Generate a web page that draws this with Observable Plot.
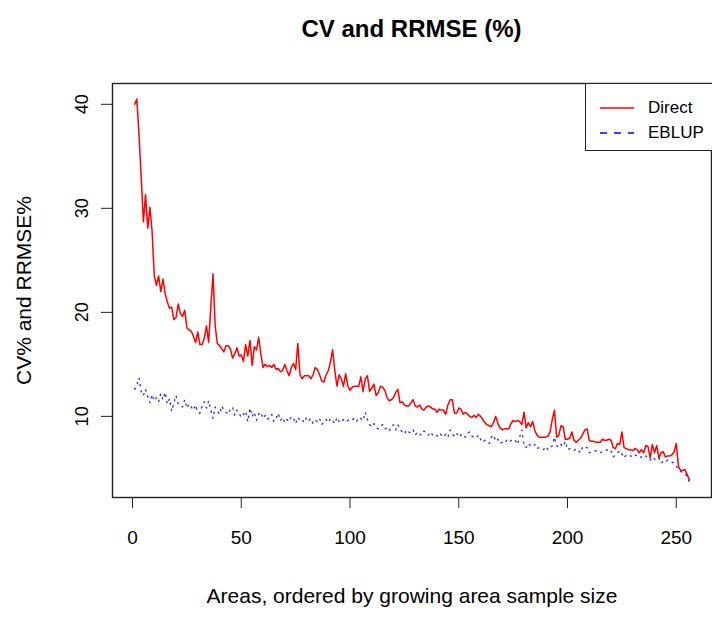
<!DOCTYPE html>
<html><head><meta charset="utf-8">
<script src="https://cdn.jsdelivr.net/npm/d3@7"></script>
<script src="https://cdn.jsdelivr.net/npm/@observablehq/plot@0.6"></script>
<style>
body{margin:0;background:#fff;font-family:"Liberation Sans",Arial,sans-serif;}
#wrap{position:relative;width:712px;height:617px;overflow:hidden;}
#title{position:absolute;left:112px;width:599px;top:15px;text-align:center;font-weight:bold;font-size:24px;line-height:28px;color:#000;}
#legend{position:absolute;left:585px;top:83px;width:140px;height:68px;border:1.3px solid #222;background:#fff;box-sizing:border-box;}
.lrow{position:absolute;left:0;height:24px;display:flex;align-items:center;font-size:17px;color:#000;}
.lrow svg{margin-left:14px;margin-right:14px;}
</style></head><body>
<div id="wrap"><div id="title">CV and RRMSE (%)</div></div>
<script>
const direct = [
40.0,40.5,37.0,33.0,28.7,31.3,28.1,30.1,27.8,23.5,
22.6,23.5,22.0,23.2,21.8,21.0,20.4,20.5,19.3,19.5,
20.8,19.9,19.6,20.2,18.5,18.3,18.2,17.7,17.1,18.1,
16.9,16.9,17.5,18.7,17.1,20.5,23.7,18.7,17.0,16.8,
16.5,16.2,16.8,16.8,16.5,15.6,16.0,16.6,15.8,15.9,
15.3,16.9,15.8,17.3,14.9,16.7,16.4,17.6,16.0,14.7,
15.0,14.8,14.9,14.7,15.0,14.5,14.6,14.3,14.4,15.0,
14.4,13.9,14.7,15.1,14.5,17.0,14.0,13.6,13.9,13.9,
13.9,13.6,14.0,14.7,14.5,14.0,13.4,13.3,14.0,14.4,
15.2,16.4,14.4,12.9,14.0,13.6,12.9,14.1,12.9,12.5,
12.8,12.9,12.9,12.9,13.8,12.4,13.6,13.9,12.4,12.7,
13.1,12.0,12.3,12.9,12.8,12.5,11.8,11.5,11.6,11.8,
12.3,12.6,11.3,11.4,11.1,11.0,11.0,11.3,11.6,11.0,
10.9,11.1,10.7,10.6,10.9,11.0,10.9,10.7,10.7,10.4,
10.7,10.6,10.6,10.2,11.1,11.6,11.6,10.3,10.3,10.8,
10.7,10.2,10.4,10.2,10.0,9.9,10.1,9.9,10.2,10.0,
9.7,9.4,9.2,9.1,9.0,9.4,10.0,9.3,8.9,8.7,
8.8,8.8,8.8,9.3,9.6,9.5,9.6,9.5,9.2,10.4,
8.9,9.4,9.0,9.5,8.6,8.2,8.0,8.0,8.0,8.0,
8.1,8.5,9.7,10.6,8.0,8.2,9.1,9.0,7.8,7.8,
7.9,8.5,7.7,7.5,7.7,7.9,8.3,8.7,8.8,7.7,
7.6,7.6,7.5,7.5,7.5,7.8,7.7,7.7,7.8,7.7,
7.0,6.9,7.4,7.3,8.5,7.0,6.9,6.8,6.8,6.7,
6.9,6.8,6.5,6.8,6.5,7.2,7.1,6.0,7.3,6.5,
7.2,6.0,6.5,6.6,6.1,6.2,6.2,6.3,6.6,7.4,
5.2,4.8,4.8,4.9,4.4,3.9
];
const eblup = [
12.6,13.0,13.7,12.4,12.0,12.6,11.9,11.3,12.1,11.5,
11.8,11.4,12.2,11.6,12.3,11.2,11.7,10.5,11.3,12.0,
11.2,11.0,10.9,11.6,10.8,11.2,10.9,10.6,11.1,10.4,
10.3,11.0,11.4,10.8,11.5,10.6,9.8,10.9,10.5,10.2,
11.0,10.6,10.4,10.2,10.7,10.9,10.1,10.6,10.3,9.9,
10.2,10.5,9.5,10.8,10.0,10.4,9.6,10.2,10.4,9.8,
10.1,9.7,9.9,10.2,9.5,9.8,10.3,9.6,9.9,9.4,
9.7,9.5,10.0,9.8,9.3,9.9,9.6,9.7,9.4,9.9,
9.6,9.8,9.3,9.6,9.5,9.8,9.2,9.5,9.7,9.4,
9.8,9.6,9.3,9.9,9.5,9.4,9.7,9.5,9.6,9.8,
9.7,9.8,9.5,9.9,9.8,9.6,10.4,9.7,9.2,9.0,
9.3,8.9,8.8,9.1,9.2,8.8,8.9,8.6,9.0,9.2,
8.7,9.2,8.8,8.5,8.3,8.7,8.5,8.4,8.7,8.2,
8.5,8.3,8.2,8.6,8.4,8.2,8.5,8.2,8.3,8.1,
8.4,8.2,8.0,8.3,8.0,8.7,8.3,8.1,8.4,8.0,
8.2,8.3,8.0,8.4,8.5,8.1,8.0,7.9,8.2,7.8,
7.5,7.7,7.6,7.4,8.0,8.2,7.6,7.8,7.4,7.5,
7.4,7.7,7.5,7.7,7.6,7.7,7.3,8.0,8.7,7.2,
7.0,7.4,7.2,7.1,7.3,6.9,7.0,6.9,6.8,7.1,
6.8,6.9,7.2,8.0,7.2,7.0,7.3,7.1,7.6,6.8,
6.9,6.8,6.7,6.9,6.7,6.5,7.1,7.1,7.0,6.5,
6.6,6.6,6.7,6.6,6.5,6.6,6.7,6.8,6.6,6.7,
6.1,6.3,6.5,6.7,6.4,6.0,6.3,6.2,6.2,6.1,
6.3,6.2,6.0,6.1,6.0,6.2,5.9,5.8,6.1,5.9,
5.8,6.0,5.5,5.7,5.6,5.8,5.7,5.6,5.5,5.2,
4.9,4.7,4.6,4.5,4.2,3.7
];
const xTicks = [0, 50, 100, 150, 200, 250];
const yTicks = [10, 20, 30, 40];
const seriesNames = ["Direct", "EBLUP"];
const seriesColors = ["#ff0000", "#0000ff"];
const titleText = "CV and RRMSE (%)";
const xLabel = "Areas, ordered by growing area sample size";
const yLabel = "CV% and RRMSE%";

const rows = direct.map((d, i) => ({area: i + 1, direct: d, eblup: eblup[i]}));

const chart = Plot.plot({
  width: 712, height: 617,
  marginLeft: 112, marginRight: 1, marginTop: 83, marginBottom: 120,
  style: {fontFamily: "'Liberation Sans', Arial, sans-serif", background: "#fff", color: "#000", overflow: "visible"},
  x: {domain: [-9.2, 266.2]},
  y: {domain: [2.2, 42.0]},
  marks: [
    Plot.axisX({ticks: xTicks, tickSize: 11, tickPadding: 22, fontSize: 19, label: null, stroke: "#222"}),
    Plot.axisY({ticks: yTicks, tickSize: 11, tickRotate: -90, tickPadding: 14, fontSize: 18, label: null, stroke: "#222"}),
    Plot.text([xLabel], {frameAnchor: "bottom", dy: 105, fontSize: 21}),
    Plot.text([yLabel], {frameAnchor: "left", textAnchor: "middle", dx: -88, rotate: -90, fontSize: 21}),
    Plot.line(rows, {x: "area", y: "eblup", stroke: seriesColors[1], strokeWidth: 1.4, strokeOpacity: 0.8, strokeDasharray: "1.3,5"}),
    Plot.line(rows, {x: "area", y: "direct", stroke: seriesColors[0], strokeWidth: 1.5}),
    Plot.frame({stroke: "#222", strokeWidth: 1.4})
  ]
});
const wrap = document.getElementById("wrap");
wrap.insertBefore(chart, wrap.firstChild);
chart.style.position = "absolute"; chart.style.left = "0"; chart.style.top = "0";
document.getElementById("title").textContent = titleText;

const legend = document.createElement("div");
legend.id = "legend";
seriesNames.forEach((name, k) => {
  const row = document.createElement("div");
  row.className = "lrow";
  row.style.top = (12 + k * 25) + "px";
  const dash = k === 1 ? 'stroke-dasharray="7,7"' : '';
  row.innerHTML = `<svg width="34" height="6"><line x1="0" x2="34" y1="3" y2="3" stroke="${seriesColors[k]}" stroke-width="1.5" ${dash}/></svg><span>${name}</span>`;
  legend.appendChild(row);
});
wrap.appendChild(legend);
</script>
</body></html>
